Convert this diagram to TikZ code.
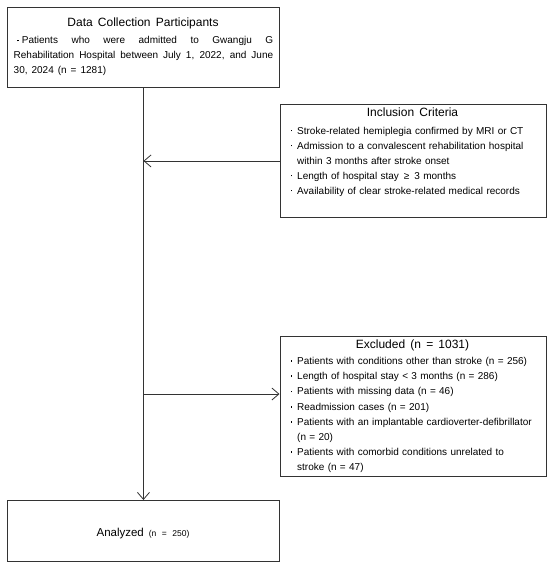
\documentclass[tikz,border=0pt]{standalone}
\usepackage{fontspec}
\setmainfont{Liberation Sans}
\usetikzlibrary{arrows.meta}
\newcommand\bul{\raisebox{2.6pt}{\rule{1.7pt}{1.7pt}}}
\newcommand\itmfirst{\hangindent=6.5pt\hangafter=1\noindent\makebox[6.5pt][l]{\bul}}
\newcommand\itm{\par\itmfirst}
\newcommand\brk{\hfill\break}
\newcommand\ttlfont{\fontsize{12}{14}\selectfont\spaceskip=5.2pt plus 1pt minus 1pt\relax}
\newcommand\bodyfont{\fontsize{10}{15}\selectfont\spaceskip=4.5pt plus 1pt minus 0.5pt\relax}
\newcommand\exfont{\fontsize{10}{15.2}\selectfont\spaceskip=4.6pt plus 1pt minus 0.5pt\relax}
\newcommand\jusfont{\fontsize{10}{15}\selectfont\spaceskip=4pt plus 6pt minus 0.5pt\relax}
\begin{document}
\begin{tikzpicture}[x=1pt,y=-1pt,
  box/.style={draw=black!80,line width=0.9pt,inner sep=0pt,anchor=north west},
  ttl/.style={font=\ttlfont, anchor=base, inner sep=0pt},
  body/.style={font=\bodyfont, anchor=base west, inner sep=0pt, align=left, text width=254pt},
  conn/.style={draw=black!80,line width=0.8pt},
  arr/.style={conn,-{Straight Barb[length=7pt,width=12pt,line width=0.8pt]}}]
\useasboundingbox[fill=white] (0,0) rectangle (550,567);

% boxes
\node[box, minimum width=272pt, minimum height=80pt] (dc) at (7,7) {};
\node[box, minimum width=266pt, minimum height=113pt] (inc) at (279.5,104) {};
\node[box, minimum width=266pt, minimum height=140pt] (exc) at (279.5,336) {};
\node[box, minimum width=272pt, minimum height=61pt] (an) at (7,500) {};

% data collection
\node[ttl] (dct) at (143,27) {Data Collection Participants};
\node[body, text width=259.5pt, align=justify, font=\jusfont] (dcb) at (13.5,44)
  {\hspace*{3.5pt}\bul\hspace{3pt}Patients who were admitted to Gwangju G\linebreak
   Rehabilitation Hospital between July 1, 2022, and June\linebreak
   30, 2024 (n = 1281)};

% inclusion
\node[ttl] (inct) at (412.5,117) {Inclusion Criteria};
\node[body] (incb) at (290.5,134)
  {\itmfirst Stroke-related hemiplegia confirmed by MRI or CT
   \itm Admission to a convalescent rehabilitation hospital\brk within 3 months after stroke onset
   \itm Length of hospital stay \,≥\, 3 months
   \itm Availability of clear stroke-related medical records\par};

% excluded
\node[ttl] (exct) at (412.5,348) {Excluded (n = 1031)};
\node[body, font=\exfont] (excb) at (290.5,364.5)
  {\itmfirst Patients with conditions other than stroke (n = 256)
   \itm Length of hospital stay < 3 months (n = 286)
   \itm Patients with missing data (n = 46)
   \itm Readmission cases (n = 201)
   \itm Patients with an implantable cardioverter-defibrillator\brk (n = 20)
   \itm Patients with comorbid conditions unrelated to\brk stroke (n = 47)\par};

% analyzed
\node[anchor=base, inner sep=0pt] (ant) at (143,536)
  {\fontsize{11.5}{14}\selectfont Analyzed\hspace{5pt}{\fontsize{8.5}{10}\selectfont\spaceskip=5.5pt\relax (n = 250)}};

% connectors
\coordinate (e1) at (143,394);
\draw[arr] (dc.south) -- (an.north);
\draw[arr] (inc.west) -- (inc.west -| dc.south);
\draw[arr] (e1) -- (e1 -| exc.west);
\end{tikzpicture}
\end{document}
